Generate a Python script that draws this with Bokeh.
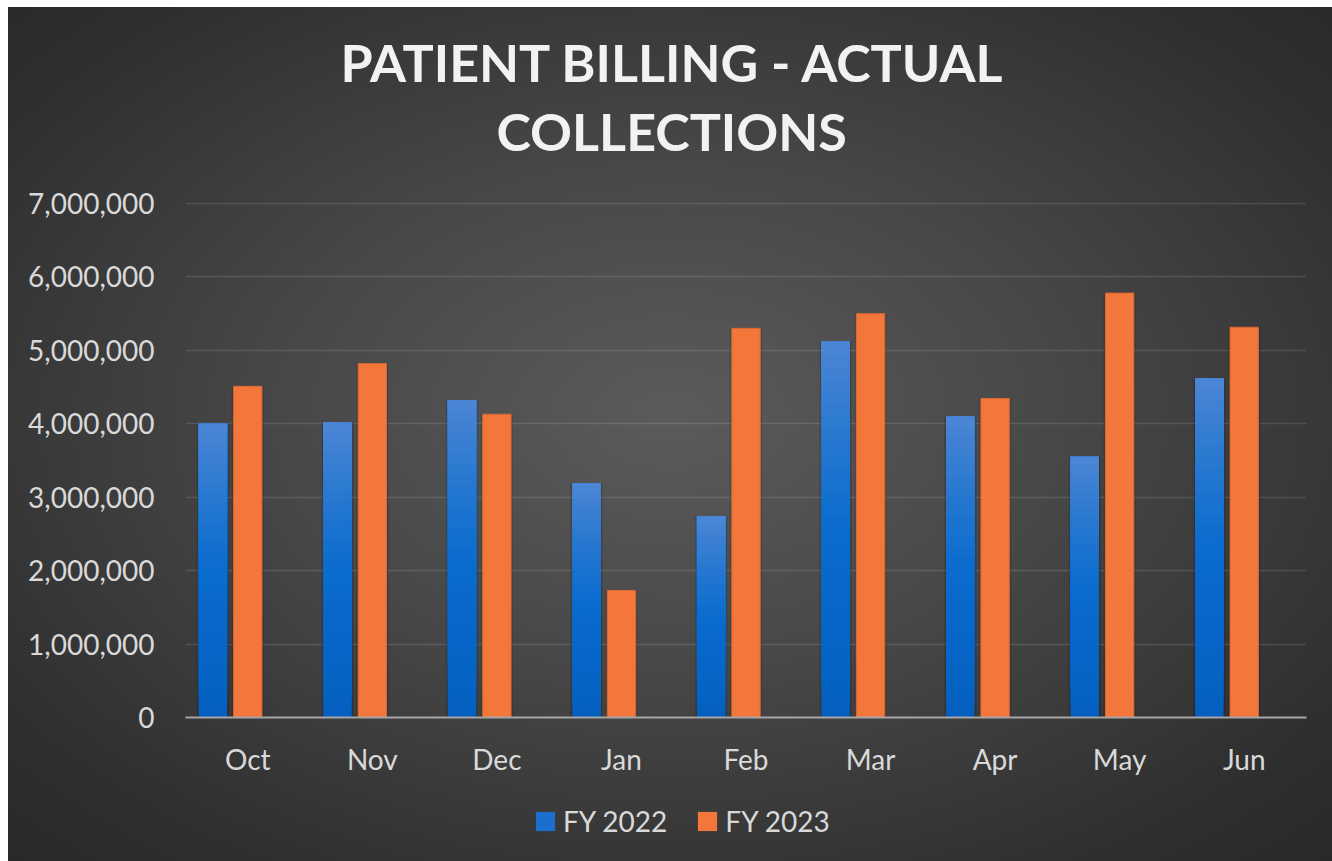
from bokeh.plotting import figure
from bokeh.layouts import column
from bokeh.models import (ColumnDataSource, FactorRange, Range1d, FixedTicker,
                          NumeralTickFormatter, Legend, LegendItem, Title)
from bokeh.transform import dodge
from bokeh.embed import file_html
from bokeh.resources import INLINE

# ---- data ----
months = ["Oct", "Nov", "Dec", "Jan", "Feb", "Mar", "Apr", "May", "Jun"]
fy2022 = [4000000, 4020000, 4320000, 3190000, 2740000, 5120000, 4100000, 3550000, 4620000]
fy2023 = [4510000, 4820000, 4130000, 1730000, 5300000, 5500000, 4345000, 5780000, 5315000]
series_labels = ["FY 2022", "FY 2023"]
y_ticks = [0, 1000000, 2000000, 3000000, 4000000, 5000000, 6000000, 7000000]
title_line1 = "PATIENT BILLING - ACTUAL"
title_line2 = "COLLECTIONS"

FONT = "Lato"
TXT = "#d9d9d9"
BAR_W = 0.228
BLUE_OFF = -0.28
ORANGE = "#F3763B"
BLUE_MID = "#1a6fcf"

p = figure(x_range=FactorRange(*months, range_padding=0),
           y_range=Range1d(0, 7014000),
           width=1324, height=780,
           min_border_left=177, min_border_right=26,
           min_border_top=195, min_border_bottom=70,
           output_backend="svg", toolbar_location=None, tools="")

p.background_fill_alpha = 0
p.border_fill_alpha = 0
p.outline_line_color = None

# titles (Title places its text standoff/2 above its panel bottom)
p.title.text = title_line1
p.title.align = "left"
p.title.offset = 155
p.title.standoff = -72
p.title.text_font = FONT
p.title.text_font_size = "52px"
p.title.text_font_style = "bold"
p.title.text_color = "#f2f2f2"

t2 = Title(text=title_line2, align="left", offset=311, standoff=82,
           text_font=FONT, text_font_size="52px", text_font_style="bold",
           text_color="#f2f2f2")
p.add_layout(t2, "above")

# shadows
shadow_src = ColumnDataSource(dict(month=months, b=fy2022, o=fy2023))
for extra, alpha in [(0.035, 0.08), (0.018, 0.12)]:
    p.vbar(x=dodge("month", BLUE_OFF, range=p.x_range), top="b", width=BAR_W + extra,
           source=shadow_src, fill_color="black", fill_alpha=alpha, line_color=None)
    p.vbar(x=dodge("month", 0.0, range=p.x_range), top="o", width=BAR_W + extra,
           source=shadow_src, fill_color="black", fill_alpha=alpha, line_color=None)

# blue gradient bars built from strips (style only; heights come from fy2022)
N = 30
stops = [(0.0, (3, 96, 192)), (0.5, (10, 108, 206)), (0.75, (40, 120, 208)), (1.0, (76, 134, 214))]


def grad(f):
    for (f0, c0), (f1, c1) in zip(stops[:-1], stops[1:]):
        if f0 <= f <= f1:
            t = (f - f0) / (f1 - f0)
            return "#%02x%02x%02x" % tuple(int(round(a + (b - a) * t)) for a, b in zip(c0, c1))
    return "#%02x%02x%02x" % stops[-1][1]


bm, bb, bt, bc = [], [], [], []
for m, v in zip(months, fy2022):
    for k in range(N):
        bm.append(m)
        bb.append(v * k / N)
        bt.append(v)
        bc.append(grad((k + 0.5) / N))
blue_src = ColumnDataSource(dict(month=bm, bottom=bb, top=bt, color=bc))
rb = p.vbar(x=dodge("month", BLUE_OFF, range=p.x_range), bottom="bottom", top="top",
            width=BAR_W, source=blue_src, fill_color="color", line_color=None)

orange_src = ColumnDataSource(dict(month=months, top=fy2023))
ro = p.vbar(x=dodge("month", 0.0, range=p.x_range), top="top", width=BAR_W,
            source=orange_src, fill_color=ORANGE, line_color="#d96a35", line_width=1)

# axes
p.xgrid.grid_line_color = None
p.ygrid.grid_line_color = "white"
p.ygrid.grid_line_alpha = 0.12
p.ygrid.grid_line_width = 1.5

p.yaxis.ticker = FixedTicker(ticks=y_ticks)
p.yaxis.formatter = NumeralTickFormatter(format="0,0")
p.yaxis.axis_line_color = None
p.yaxis.major_tick_line_color = None
p.yaxis.minor_tick_line_color = None
p.yaxis.major_tick_out = 0
p.yaxis.major_label_standoff = 31
p.yaxis.major_label_text_font = FONT
p.yaxis.major_label_text_font_size = "28px"
p.yaxis.major_label_text_color = TXT

p.xaxis.axis_line_color = "#a6a6a6"
p.xaxis.axis_line_width = 2
p.xaxis.major_tick_line_color = None
p.xaxis.minor_tick_line_color = None
p.xaxis.major_tick_out = 0
p.xaxis.major_label_standoff = 24
p.xaxis.major_label_text_font = FONT
p.xaxis.major_label_text_font_size = "28px"
p.xaxis.major_label_text_color = TXT

# legend strip below the chart (its swatch renderers hold one hidden row each,
# placed outside the strip's visible range, so only the legend shows them)
leg = figure(width=1324, height=74, x_range=Range1d(0, 1), y_range=Range1d(0, 1),
             x_axis_type=None, y_axis_type=None, min_border=0,
             output_backend="svg", toolbar_location=None, tools="")
leg.background_fill_alpha = 0
leg.border_fill_alpha = 0
leg.outline_line_color = None
leg.grid.visible = False
swatch_src = ColumnDataSource(dict(x=[-5], y=[-5]))
lb = leg.rect(x="x", y="y", width=0.1, height=0.1, source=swatch_src,
              fill_color=BLUE_MID, line_color=None)
lo = leg.rect(x="x", y="y", width=0.1, height=0.1, source=swatch_src,
              fill_color=ORANGE, line_color=None)
legend = Legend(items=[LegendItem(label=series_labels[0], renderers=[lb]),
                       LegendItem(label=series_labels[1], renderers=[lo])],
                orientation="horizontal", location=(348, 23),
                glyph_width=24, glyph_height=24, label_standoff=6, spacing=28,
                padding=0, margin=0, border_line_color=None, background_fill_alpha=0,
                label_text_font=FONT, label_text_font_size="28px", label_text_color=TXT)
leg.add_layout(legend, "center")

layout = column(p, leg, spacing=0)
layout.margin = (7, 0, 0, 8)
layout.styles = {"background": "radial-gradient(ellipse 75% 75% at 50% 48%, #5b5b5b 0%, #474747 40%, #2f2f2f 80%, #272727 100%)"}

open("out.html", "w").write(file_html(layout, INLINE))
